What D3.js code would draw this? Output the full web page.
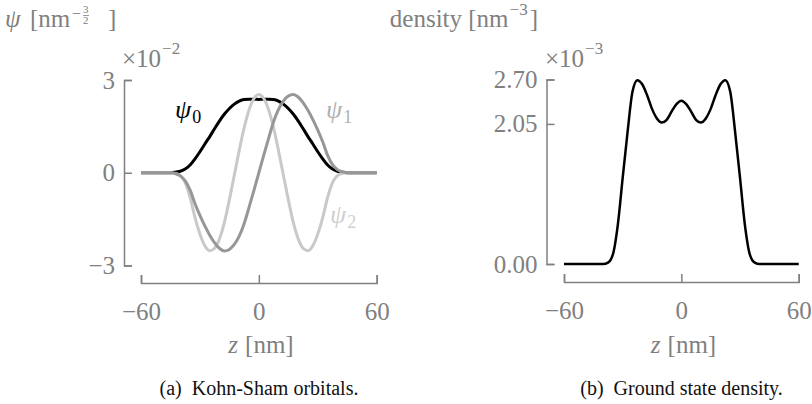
<!DOCTYPE html>
<html>
<head>
<meta charset="utf-8">
<script src="https://cdn.jsdelivr.net/npm/d3@7"></script>
<style>
  html, body { margin: 0; padding: 0; background: #fff; }
  svg { display: block; }
</style>
</head>
<body>
<svg id="fig" width="812" height="404"></svg>
<script>
// Position along the well, nm
const z = [-60, -57.5, -55, -52.5, -50, -47.5, -45, -42.5, -40, -37.5, -35, -32.5, -30, -27.5, -25, -22.5,
           -20, -17.5, -15, -12.5, -10, -7.5, -5, -2.5, 0, 2.5, 5, 7.5, 10, 12.5, 15, 17.5,
           20, 22.5, 25, 27.5, 30, 32.5, 35, 37.5, 40, 42.5, 45, 47.5, 50, 52.5, 55, 57.5, 60];

// Kohn-Sham orbitals, units of 1e-2 nm^-3/2
const psi0 = [0, 0, 0, 0, 0, 0, 0, 0.02, 0.05, 0.12, 0.25, 0.45, 0.68, 0.93, 1.17, 1.43,
              1.68, 1.90, 2.08, 2.22, 2.32, 2.37, 2.38, 2.38, 2.37, 2.38, 2.38, 2.37, 2.32, 2.22, 2.08, 1.90,
              1.68, 1.43, 1.17, 0.93, 0.68, 0.45, 0.25, 0.12, 0.05, 0.02, 0, 0, 0, 0, 0, 0, 0];
const psi1 = [0, 0, 0, 0, 0, 0, 0, -0.03, -0.10, -0.26, -0.56, -1.00, -1.38, -1.72, -2.02, -2.27,
              -2.45, -2.53, -2.48, -2.32, -2.05, -1.65, -1.12, -0.57, 0, 0.57, 1.12, 1.65, 2.05, 2.32, 2.48, 2.53,
              2.45, 2.27, 2.02, 1.72, 1.38, 1.00, 0.56, 0.26, 0.10, 0.03, 0, 0, 0, 0, 0, 0, 0];
const psi2 = [0, 0, 0, 0, 0, 0, 0, -0.02, -0.09, -0.32, -0.80, -1.45, -1.98, -2.36, -2.52, -2.44,
              -2.13, -1.60, -0.87, -0.08, 0.72, 1.45, 2.03, 2.40, 2.53, 2.40, 2.03, 1.45, 0.72, -0.08, -0.87, -1.60,
              -2.13, -2.44, -2.52, -2.36, -1.98, -1.45, -0.80, -0.32, -0.09, -0.02, 0, 0, 0, 0, 0, 0, 0];

// Ground state density, units of 1e-3 nm^-3
const density = [0, 0, 0, 0, 0, 0, 0, 0, 0, 0.02, 0.14, 0.57, 1.26, 1.93, 2.52, 2.69,
                 2.63, 2.47, 2.27, 2.13, 2.07, 2.11, 2.23, 2.34, 2.39, 2.34, 2.23, 2.11, 2.07, 2.13, 2.27, 2.47,
                 2.63, 2.69, 2.52, 1.93, 1.26, 0.57, 0.14, 0.02, 0, 0, 0, 0, 0, 0, 0, 0, 0];

const zTicks = [-60, 0, 60];
const psiTicks = [-3, 0, 3];
const densityTicks = [0, 2.05, 2.70];

const GRAY = "#808080";
const SERIF = "'Liberation Serif', 'Times New Roman', serif";

const svg = d3.select("#fig");

// Scales
const xA = d3.scaleLinear().domain([-60, 60]).range([141, 376.7]);
const yA = d3.scaleLinear().domain([-3, 3]).range([265.5, 80]);
const xB = d3.scaleLinear().domain([-60, 60]).range([564, 798.7]);
const yB = d3.scaleLinear().domain([0, 2.70]).range([264, 79.5]);

function styleAxis(g) {
  g.attr("font-family", SERIF).attr("font-size", 25);
  g.selectAll("path.domain, .tick line").attr("stroke", GRAY).attr("stroke-width", 1.5);
  g.selectAll("text").attr("fill", GRAY);
}

// ---- Panel (a): orbitals ----
svg.append("g").attr("transform", "translate(124,0)")
  .call(d3.axisLeft(yA).tickValues(psiTicks).tickSize(-8).tickPadding(9).tickFormat(d3.format("d")))
  .call(styleAxis);
svg.append("g").attr("transform", "translate(0,283)")
  .call(d3.axisBottom(xA).tickValues(zTicks).tickSize(-8).tickPadding(19).tickFormat(d3.format("d")))
  .call(styleAxis);

const lineA = d3.line().x((d, i) => xA(z[i])).y(d => yA(d)).curve(d3.curveMonotoneX);
const orbitals = [
  { values: psi0, color: "#000000" },
  { values: psi2, color: "#c9c9c9" },
  { values: psi1, color: "#979797" }
];
svg.append("g").selectAll("path").data(orbitals).join("path")
  .attr("d", d => lineA(d.values))
  .attr("fill", "none")
  .attr("stroke", d => d.color)
  .attr("stroke-width", 3)
  .attr("stroke-linejoin", "round");

function orbitalLabel(x, y, sub, color) {
  const t = svg.append("text").attr("x", x).attr("y", y)
    .attr("font-family", SERIF).attr("font-size", 26).attr("fill", color);
  t.append("tspan").attr("font-style", "italic").text("ψ");
  t.append("tspan").attr("font-size", 18).attr("dy", 5).attr("dx", 1).text(sub);
}
orbitalLabel(175, 118, "0", "#000000");
orbitalLabel(326, 118, "1", "#b0b0b0");
orbitalLabel(330, 223, "2", "#cfcfcf");

// ---- Panel (b): density ----
svg.append("g").attr("transform", "translate(546.5,0)")
  .call(d3.axisLeft(yB).tickValues(densityTicks).tickSize(-8).tickPadding(9).tickFormat(d3.format(".2f")))
  .call(styleAxis);
svg.append("g").attr("transform", "translate(0,282)")
  .call(d3.axisBottom(xB).tickValues(zTicks).tickSize(-8).tickPadding(19).tickFormat(d3.format("d")))
  .call(styleAxis);

const lineB = d3.line().x((d, i) => xB(z[i])).y(d => yB(d)).curve(d3.curveMonotoneX);
svg.append("path")
  .attr("d", lineB(density))
  .attr("fill", "none")
  .attr("stroke", "#000")
  .attr("stroke-width", 2.5)
  .attr("stroke-linejoin", "round");

// ---- Axis titles and scale factors ----
const titles = svg.append("g").attr("font-family", SERIF).attr("fill", GRAY);

// psi [nm^{-3/2}]
titles.append("text").attr("x", 5).attr("y", 27).attr("font-size", 25)
  .attr("font-style", "italic").text("ψ");
titles.append("text").attr("x", 30).attr("y", 27).attr("font-size", 25).text("[nm");
titles.append("text").attr("x", 72).attr("y", 19).attr("font-size", 16).text("−");
titles.append("text").attr("x", 83).attr("y", 13).attr("font-size", 11).text("3");
titles.append("line").attr("x1", 83).attr("x2", 89).attr("y1", 15.5).attr("y2", 15.5)
  .attr("stroke", GRAY).attr("stroke-width", 0.8);
titles.append("text").attr("x", 83).attr("y", 24).attr("font-size", 11).text("2");
titles.append("text").attr("x", 108).attr("y", 27).attr("font-size", 25).text("]");

// density [nm^-3]
const dens = titles.append("text").attr("x", 538).attr("y", 27).attr("font-size", 25)
  .attr("text-anchor", "end");
dens.append("tspan").text("density [nm");
dens.append("tspan").attr("font-size", 17).attr("dy", -12).attr("dx", 1).text("−3");
dens.append("tspan").attr("dy", 12).attr("dx", 2).text("]");

function scaleFactor(x, exp) {
  const t = titles.append("text").attr("x", x).attr("y", 67).attr("font-size", 25);
  t.append("tspan").text("×10");
  t.append("tspan").attr("font-size", 17).attr("dy", -13).attr("dx", 1).text(exp);
}
scaleFactor(122, "−2");
scaleFactor(545, "−3");

// x axis titles
function zTitle(cx) {
  const t = titles.append("text").attr("x", cx).attr("y", 353).attr("font-size", 25)
    .attr("text-anchor", "middle");
  t.append("tspan").attr("font-style", "italic").text("z");
  t.append("tspan").attr("dx", 7).text("[nm]");
}
zTitle(261);
zTitle(683.5);

// Sub-figure captions
function caption(cx, tag, body) {
  const t = svg.append("text").attr("x", cx).attr("y", 395)
    .attr("font-family", SERIF).attr("font-size", 20).attr("fill", "#111")
    .attr("text-anchor", "middle");
  t.append("tspan").text(tag);
  t.append("tspan").attr("dx", 10).text(body);
}
caption(259, "(a)", "Kohn-Sham orbitals.");
caption(681.5, "(b)", "Ground state density.");
</script>
</body>
</html>
